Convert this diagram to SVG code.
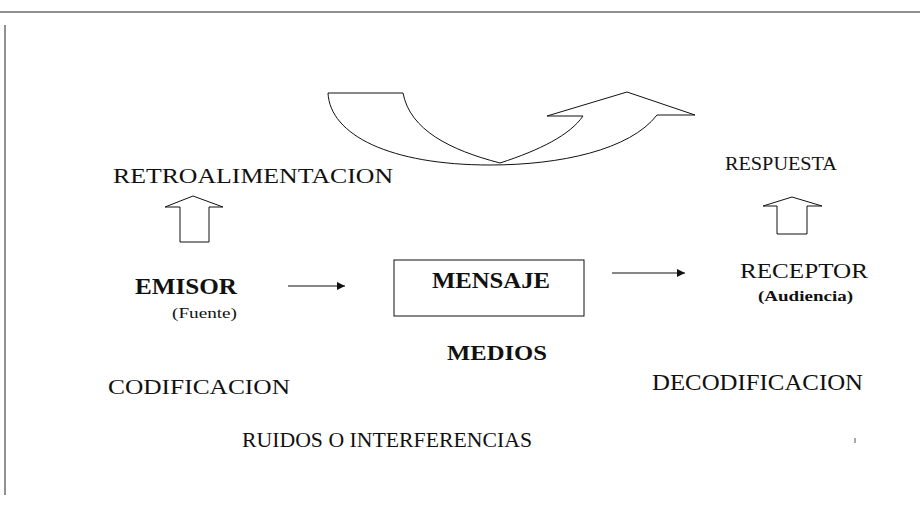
<svg xmlns="http://www.w3.org/2000/svg" width="920" height="505" viewBox="0 0 920 505">
<style>
.t{font-family:"Liberation Serif","Times New Roman",serif;fill:#111;}
.b{font-weight:bold;}
.w{fill:#fff;stroke:#111;stroke-width:1;}
</style>
<defs>
<marker id="ah" viewBox="0 0 10 10" refX="10" refY="5" markerWidth="10" markerHeight="8" markerUnits="userSpaceOnUse" orient="auto">
<path d="M0,0 L10,5 L0,10 Z" fill="#111"/>
</marker>
</defs>
<rect width="920" height="505" fill="#fff"/>
<g id="frame">
<line x1="0" y1="12" x2="920" y2="12" stroke="#222" stroke-width="1"/>
<line x1="5" y1="25" x2="5" y2="495" stroke="#222" stroke-width="1"/>
<line x1="855" y1="438" x2="855" y2="443" stroke="#555" stroke-width="1"/>
</g>
<g id="connectors">
<path id="feedback" class="w" d="M328,93 L403,93 C410,130 450,150 500,163 C540,150 570,135 583,116 L547,116 L627,92 L695,115 L657,115 C630,150 560,165 490,165 C390,165 330,135 328,93 Z"/>
<polygon id="up-left" class="w" points="180,242 180,207 165,207 193,196 223,207 209,207 209,242"/>
<polygon id="up-right" class="w" points="777,234 777,206 763,206 792,197 822,206 807,206 807,234"/>
<line x1="288" y1="286" x2="345" y2="286" stroke="#111" stroke-width="1.2" marker-end="url(#ah)"/>
<line x1="612" y1="273" x2="685" y2="273" stroke="#111" stroke-width="1.2" marker-end="url(#ah)"/>
</g>
<g id="retroalimentacion">
<text class="t" x="113" y="183" font-size="22" textLength="280" lengthAdjust="spacingAndGlyphs">RETROALIMENTACION</text>
</g>
<g id="respuesta">
<text class="t" x="725" y="170" font-size="18" textLength="112" lengthAdjust="spacingAndGlyphs">RESPUESTA</text>
</g>
<g id="emisor">
<text class="t b" x="135" y="294" font-size="23" textLength="102" lengthAdjust="spacingAndGlyphs">EMISOR</text>
<text class="t" x="172" y="318" font-size="14" textLength="65" lengthAdjust="spacingAndGlyphs">(Fuente)</text>
</g>
<g id="mensaje">
<rect class="w" x="394" y="260" width="190" height="56" stroke-width="1.3"/>
<text class="t b" x="432" y="288" font-size="24" textLength="118" lengthAdjust="spacingAndGlyphs">MENSAJE</text>
</g>
<g id="receptor">
<text class="t" x="740" y="278" font-size="21" textLength="128" lengthAdjust="spacingAndGlyphs">RECEPTOR</text>
<text class="t b" x="758" y="301" font-size="15" textLength="95" lengthAdjust="spacingAndGlyphs">(Audiencia)</text>
</g>
<g id="medios">
<text class="t b" x="447" y="360" font-size="22" textLength="100" lengthAdjust="spacingAndGlyphs">MEDIOS</text>
</g>
<g id="codificacion">
<text class="t" x="108" y="394" font-size="22" textLength="182" lengthAdjust="spacingAndGlyphs">CODIFICACION</text>
</g>
<g id="decodificacion">
<text class="t" x="652" y="390" font-size="23" textLength="211" lengthAdjust="spacingAndGlyphs">DECODIFICACION</text>
</g>
<g id="ruidos">
<text class="t" x="242" y="447" font-size="22" textLength="290" lengthAdjust="spacingAndGlyphs">RUIDOS O INTERFERENCIAS</text>
</g>
</svg>
